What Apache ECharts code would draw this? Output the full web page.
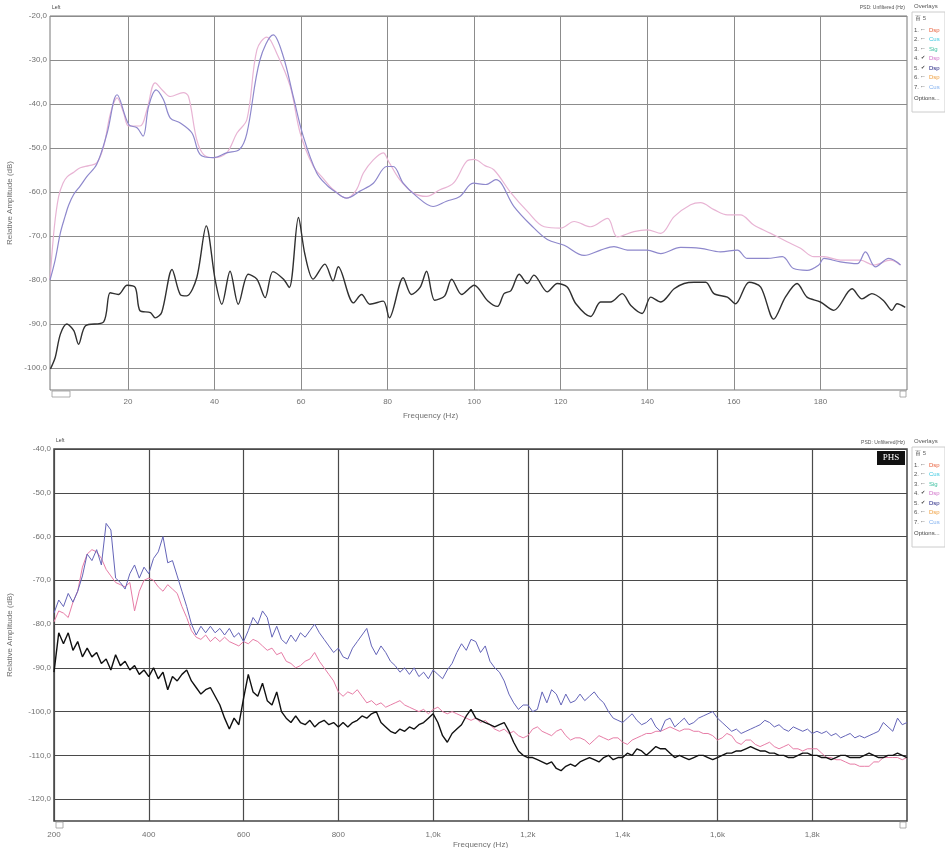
<!DOCTYPE html>
<html>
<head>
<meta charset="utf-8">
<script src="https://cdn.jsdelivr.net/npm/echarts@6/dist/echarts.min.js"></script>
<style>
html,body{margin:0;padding:0;background:#fff;}
#chart{width:945px;height:848px;}
</style>
</head>
<body>
<div id="chart"></div>
<script>
// ---------- TOP CHART (2 - 200 Hz) ----------
const topTicks = [20, 40, 60, 80, 100, 120, 140, 160, 180];
const topYTicks = [-100, -90, -80, -70, -60, -50, -40, -30, -20];

const topPink = [
[2,-80],[3,-68],[4,-61],[5,-58],[6,-56.5],[7.5,-55.5],[9,-54.5],[11,-54],[12.8,-53.4],[14.4,-49.6],
[16,-42],[17.5,-38.6],[19,-42],[20.2,-45],[22.8,-45],[24.4,-41.3],[26.3,-35.2],[28.2,-37.1],[29.8,-38.3],[32.8,-37.4],
[34,-38.3],[35.9,-48.1],[37.5,-51.5],[39.8,-52.2],[42.8,-51.1],[45.2,-46.6],[47.5,-43.5],[49.8,-27.7],[52.1,-24.8],[54.4,-28.5],
[57.5,-36],[59.8,-46.6],[62.8,-54.1],[65.2,-57],[67.5,-59.5],[70.5,-61.4],[72.8,-59.5],[74.4,-55.7],[76.7,-52.7],[79,-51.1],
[80.2,-53],[82.8,-57.2],[85.9,-60.2],[89,-61],[92.1,-59.5],[95.2,-58],[98.3,-53],[100,-52.6],[102.5,-54],[104.6,-55],
[108.5,-60.2],[112.3,-64.4],[116.2,-67.9],[120,-68.2],[123.1,-66.7],[126.9,-67.9],[130.8,-66],[133.1,-70.2],[136.9,-69],[140,-68.6],
[143.1,-69.4],[146.2,-65.6],[150,-62.9],[152.3,-62.4],[155.4,-64],[158.5,-65.2],[161.5,-65.2],[164.6,-67.5],[168.5,-69.4],[172.3,-71.3],
[175.4,-72.8],[178.5,-74.7],[180.8,-74.7],[184.6,-75.5],[189.2,-75.5],[192.3,-76.6],[196.2,-75.5],[198.5,-76.6]
];

const topBlue = [
[2,-80],[3.2,-75.4],[4.4,-69.3],[5.5,-65.5],[6.3,-63],[7.5,-60.5],[9,-58.6],[10.5,-56.5],[12.8,-53.7],[15.2,-46.6],
[17.5,-37.9],[20.2,-44.7],[22.1,-45.4],[23.5,-47.3],[24.8,-40.5],[26.5,-36.8],[28.2,-39],[29.8,-43.2],[32.1,-44.3],[34.8,-46.6],
[36.7,-51.5],[39.8,-52.2],[42.8,-51.1],[45.8,-50.3],[47.5,-46.6],[50.5,-30],[53.6,-24.3],[55.9,-29.2],[58.2,-38.3],[60.5,-47.3],
[63.6,-55.6],[66,-58.5],[68,-60],[70.5,-61.4],[73.6,-59.8],[76.7,-58],[79.8,-54.2],[81.3,-54.2],[83.6,-58],[86.7,-61],
[90.5,-63.3],[93.6,-62.1],[96.7,-61],[99.8,-58],[102.7,-58.3],[105,-57.2],[109.2,-63.3],[113.1,-67.5],[116.9,-70.8],[120.8,-72.1],
[125.4,-74.4],[129.2,-73.2],[132.3,-72.4],[135.4,-73.2],[140,-73.2],[143.1,-74],[147.7,-72.6],[152.3,-72.8],[156.9,-73.6],[160.8,-73.2],
[163.1,-75.1],[167.7,-75.1],[171.2,-74.7],[173.8,-77.4],[176.9,-77.8],[179.6,-76.6],[180.8,-75.1],[184.6,-75.9],[188.5,-76.3],[190.4,-73.6],
[192.7,-77],[195.8,-75.1],[198.5,-76.6]
];

const topBlack = [
[2.1,-100.2],[3.2,-97.6],[4.4,-92.3],[5.9,-90],[7.5,-91.5],[8.6,-94.6],[10.2,-90.4],[14.4,-89.5],[15.9,-82.9],[17.8,-83.3],
[19.8,-81.2],[21.7,-81.7],[22.8,-87],[25.2,-87.4],[26.3,-88.6],[27.8,-87.4],[30.2,-77.6],[32.1,-83.3],[33.6,-83.6],[35.9,-79.5],
[38.1,-67.7],[40.2,-80.2],[41.7,-85.5],[43.6,-78],[45.5,-85.5],[47.8,-78.7],[49.8,-79.8],[51.7,-84],[53.5,-78.1],[55.9,-79.8],
[57.3,-81.7],[59.4,-65.8],[60.9,-74.2],[62.8,-79.8],[65.5,-76.4],[67.4,-80.2],[68.6,-77],[72.1,-85.2],[74,-83.3],[75.9,-85.5],
[79,-84.8],[80.4,-88.6],[83.6,-79.5],[85.5,-83.3],[87.5,-81.7],[89,-78],[90.9,-84.6],[93.2,-83.6],[94.8,-79.8],[97.1,-83.3],
[100,-81.2],[103.1,-84.7],[105.4,-86],[106.9,-83.1],[108.5,-82.4],[110.4,-78.7],[112.3,-80.8],[113.8,-78.9],[116.9,-82.7],[119.2,-80.8],
[121.5,-81.6],[123.5,-85.4],[126.9,-88.3],[129.2,-85],[131.5,-85],[134.2,-83.1],[136.2,-85.8],[138.8,-87.6],[140.8,-83.9],[143.1,-85],
[146.2,-82],[148.5,-80.8],[150.8,-80.5],[153.5,-80.5],[155.4,-83.1],[158.5,-83.9],[160.4,-85.4],[163.5,-80.5],[166.2,-81.6],[169.2,-88.9],
[171.9,-83.9],[174.6,-80.8],[176.9,-83.9],[180,-85],[183.1,-86.9],[187.3,-82],[189.6,-84.3],[191.9,-83.1],[194.6,-84.7],[196.5,-86.9],
[197.7,-85.4],[199.6,-86.2]
];

// ---------- BOTTOM CHART (200 - 2000 Hz), sampled every 10 Hz ----------
const bottomStartHz = 200;
const bottomStepHz = 10;
const bottomTicks = [200, 400, 600, 800, 1000, 1200, 1400, 1600, 1800];
const bottomTickLabels = ['200', '400', '600', '800', '1,0k', '1,2k', '1,4k', '1,6k', '1,8k'];
const bottomYTicks = [-120, -110, -100, -90, -80, -70, -60, -50, -40];

const bottomBlue = [
-77.5,-74.5,-76,-73,-75,-72.5,-69,-64,-65.5,-63,
-66.5,-57,-58.5,-69.5,-70.5,-72,-68.5,-66.5,-69.5,-67,
-68.5,-65,-63.5,-60,-66,-65.5,-69,-72.5,-76,-80,
-82.5,-80.5,-82,-80.5,-82,-81,-82.5,-81,-83,-82,
-84,-81.5,-78.5,-80,-77,-78.5,-83,-80.5,-83.5,-84.5,
-82.5,-84,-82,-83,-81.5,-80,-82,-83.5,-85,-86.5,
-85.5,-87.5,-88,-85.5,-84,-82.5,-81,-85,-87,-85,
-86.5,-88.5,-89.5,-91,-90,-91.5,-90,-92,-91,-92.5,
-90.5,-91.5,-92.5,-90.5,-89,-86.5,-84.5,-86,-83.5,-84,
-86.5,-85,-88.5,-90,-91,-93,-96,-98,-99.5,-98.5,
-98.5,-100,-99.5,-95.5,-98,-95,-96,-98.5,-96,-98,
-97.5,-96,-97.5,-96.5,-95.5,-97,-98,-100,-101.5,-102,
-102.5,-101.5,-100.5,-102,-103,-102.5,-101.5,-103.5,-104.5,-102,
-101.5,-103.5,-102.5,-101.5,-103,-102.5,-101.5,-101,-100.5,-100,
-101.5,-102.5,-103.5,-104.5,-104,-105,-104.5,-104,-103.5,-103,
-102,-102.5,-103.5,-103,-104,-104.5,-103.5,-104,-104.5,-104,
-105,-104.5,-105,-104.5,-105.5,-105,-106,-105.5,-105,-106,
-105.5,-106,-105.5,-105,-104.5,-102.5,-103.5,-104.5,-101.5,-103,
-102.5
];

const bottomPink = [
-79.5,-77,-77.5,-78.5,-75,-72.5,-67,-64,-63,-63.5,
-65,-67.5,-69,-70.5,-71,-71.5,-70.5,-77,-72.5,-70,
-69.5,-70,-71.5,-72.5,-71,-72,-73,-76,-78.5,-81.5,
-83,-83.5,-82.5,-84,-83,-84,-83,-84,-84.5,-85,
-84,-84.5,-83.5,-84,-85,-86,-85.5,-87,-86.5,-88.5,
-89,-90,-89.5,-88.5,-88,-86.5,-88.5,-90,-91.5,-93,
-95.5,-96.5,-95.5,-96,-95,-96.5,-98,-97.5,-98.5,-98,
-99,-98.5,-98,-97.5,-98.5,-99,-99.5,-100,-99.5,-100.5,
-99.5,-99,-100,-100.5,-100,-100.5,-101,-101.5,-102,-101.5,
-102.5,-102,-103,-104,-104.5,-104,-105,-104.5,-105.5,-106,
-105.5,-104,-103.5,-104.5,-105,-105.5,-104.5,-104,-105.5,-106.5,
-106,-106,-106.5,-107.5,-106.5,-105.5,-106,-106.5,-106,-106,
-107,-107.5,-106.5,-106,-105.5,-105,-105,-104.5,-104.5,-104,
-103.5,-104,-104.5,-104,-104,-104.5,-104.5,-105,-105,-105.5,
-106.5,-106,-105,-105.5,-107,-107.5,-106.5,-106.5,-107.5,-108,
-107.5,-107,-108,-108.5,-108,-107.5,-108.5,-108.5,-109,-108.5,
-108.5,-108.5,-109.5,-110.5,-110.5,-111,-111,-111.5,-112,-112,
-112.5,-112.5,-112.5,-111.5,-111.5,-110.5,-110.5,-110.5,-110.5,-111,
-110.5
];

const bottomBlack = [
-91,-82,-84.5,-82,-86,-84,-87.5,-85.5,-87.5,-86.5,
-89,-88,-90.5,-87,-89.5,-88.5,-90.5,-89.5,-91.5,-90.5,
-92,-90,-92.5,-91,-95,-92,-93,-91.5,-90.5,-93,
-94.5,-96,-95,-94.5,-96.5,-98.5,-101.5,-104,-101.5,-103,
-97,-91.5,-95.5,-96.5,-93.5,-97.5,-98.5,-95.5,-100,-101.5,
-102.5,-101,-102.5,-103,-102,-103.5,-102.5,-102,-103,-102.5,
-103.5,-102.5,-103.5,-102.5,-102,-101,-101.5,-100.5,-100,-102.5,
-103.5,-104.5,-105,-104,-104.5,-103.5,-104,-103,-102.5,-101.5,
-100.5,-102.5,-105.5,-107,-105,-104,-103,-101,-99.5,-101.5,
-102,-102.5,-103,-103.5,-103,-102.5,-104.5,-107,-109,-110,
-110.5,-110.5,-111,-111.5,-112,-111.5,-113,-113.5,-112.5,-112,
-112.5,-111.5,-111,-110.5,-111,-111.5,-110.5,-110,-111,-110.5,
-110.5,-109.5,-110,-108.5,-109,-110,-109,-108,-108.5,-108.5,
-109.5,-110.5,-110,-110.5,-111,-110.5,-110,-110,-110.5,-111,
-110.5,-110,-109.5,-109.5,-109,-109,-108.5,-108,-108.5,-109,
-109,-109.5,-109.5,-110,-110,-110.5,-110.5,-110,-109.5,-109.5,
-110,-110,-110.5,-110.5,-111,-110.5,-110,-110,-110.5,-110.5,
-110.5,-110,-109.5,-110,-110.5,-110.5,-110,-110,-109.5,-110,
-110.5
];

// ---------- build ----------
function toPairs(values) {
  return values.map((v, i) => [bottomStartHz + i * bottomStepHz, v]);
}
function fmtDb(v) { return v.toFixed(1).replace('.', ','); }

const FONT = 'Liberation Sans, Arial, sans-serif';
const labelColor = '#707070';

const chart = echarts.init(document.getElementById('chart'), null, {renderer: 'canvas'});

function overlayPanel(x, y) {
  const items = [
    ['1.', '#e8603c', 'Dsp'], ['2.', '#3cc8e0', 'Cus'], ['3.', '#3cc0a0', 'Sig'],
    ['4.', '#d070c8', 'Dsp'], ['5.', '#202080', 'Dsp'], ['6.', '#f0a040', 'Dsp'], ['7.', '#80b0f0', 'Cus']
  ];
  const els = [
    {type: 'text', x: x + 2, y: y, style: {text: 'Overlays', fontSize: 6, fill: '#555', fontFamily: FONT}},
    {type: 'rect', shape: {x: x, y: y + 9, width: 33, height: 100}, style: {fill: 'none', stroke: '#ccc', lineWidth: 1}},
    {type: 'text', x: x + 3, y: y + 12, style: {text: '百 5', fontSize: 6, fill: '#666', fontFamily: FONT}}
  ];
  items.forEach((it, i) => {
    const yy = y + 24 + i * 9.5;
    els.push({type: 'text', x: x + 2, y: yy, style: {text: it[0], fontSize: 6, fill: '#555', fontFamily: FONT}});
    els.push({type: 'text', x: x + 9, y: yy, style: {text: (i === 3 || i === 4) ? '✔' : '⌐', fontSize: 5, fill: '#444', fontFamily: 'DejaVu Sans'}});
    els.push({type: 'text', x: x + 17, y: yy, style: {text: it[2], fontSize: 6, fill: it[1], fontFamily: FONT}});
  });
  els.push({type: 'text', x: x + 2, y: y + 92, style: {text: 'Options...', fontSize: 6, fill: '#444', fontFamily: FONT}});
  return els;
}

const option = {
  backgroundColor: '#ffffff',
  animation: false,
  grid: [
    {left: 50, top: 16, right: 38, height: 374, outerBoundsMode: 'none', containLabel: false,
     show: true, borderColor: '#777', borderWidth: 1, backgroundColor: '#fff'},
    {left: 54, top: 449, right: 38, height: 372, outerBoundsMode: 'none', containLabel: false,
     show: true, borderColor: '#444', borderWidth: 1.5, backgroundColor: '#fff'}
  ],
  xAxis: [
    {
      type: 'value', gridIndex: 0, min: 2, max: 200,
      name: 'Frequency (Hz)', nameLocation: 'middle', nameGap: 22,
      nameTextStyle: {fontSize: 8, color: labelColor, fontFamily: FONT, padding: [0, 96, 0, 0]},
      axisLine: {show: false},
      axisTick: {show: false, customValues: topTicks},
      axisLabel: {customValues: topTicks, fontSize: 8, color: labelColor, fontFamily: FONT, margin: 8},
      splitLine: {show: true, lineStyle: {color: '#8c8c8c', width: 1}}
    },
    {
      type: 'value', gridIndex: 1, min: 200, max: 2000,
      name: 'Frequency (Hz)', nameLocation: 'middle', nameGap: 20,
      nameTextStyle: {fontSize: 8, color: labelColor, fontFamily: FONT},
      axisLine: {show: false},
      axisTick: {show: false, customValues: bottomTicks},
      axisLabel: {
        customValues: bottomTicks, fontSize: 8, color: labelColor, fontFamily: FONT, margin: 10,
        formatter: v => bottomTickLabels[bottomTicks.indexOf(v)] || ''
      },
      splitLine: {show: true, lineStyle: {color: '#4a4a4a', width: 1.2}}
    }
  ],
  yAxis: [
    {
      type: 'value', gridIndex: 0, min: -105, max: -20,
      name: 'Relative Amplitude (dB)', nameLocation: 'middle', nameGap: 36,
      nameTextStyle: {fontSize: 8, color: labelColor, fontFamily: FONT},
      axisLine: {show: false},
      axisTick: {show: false, customValues: topYTicks},
      axisLabel: {customValues: topYTicks, fontSize: 8, color: labelColor, fontFamily: FONT, margin: 3, formatter: fmtDb},
      splitLine: {show: true, lineStyle: {color: '#8c8c8c', width: 1}}
    },
    {
      type: 'value', gridIndex: 1, min: -125, max: -40,
      name: 'Relative Amplitude (dB)', nameLocation: 'middle', nameGap: 40,
      nameTextStyle: {fontSize: 8, color: labelColor, fontFamily: FONT},
      axisLine: {show: false},
      axisTick: {show: false, customValues: bottomYTicks},
      axisLabel: {customValues: bottomYTicks, fontSize: 8, color: labelColor, fontFamily: FONT, margin: 3, formatter: fmtDb},
      splitLine: {show: true, lineStyle: {color: '#4a4a4a', width: 1.2}}
    }
  ],
  series: [
    {type: 'line', xAxisIndex: 0, yAxisIndex: 0, data: topPink, smooth: 0.35, showSymbol: false,
     lineStyle: {color: '#e8b4d4', width: 1.2}, z: 3},
    {type: 'line', xAxisIndex: 0, yAxisIndex: 0, data: topBlue, smooth: 0.35, showSymbol: false,
     lineStyle: {color: '#8e88cc', width: 1.2}, z: 4},
    {type: 'line', xAxisIndex: 0, yAxisIndex: 0, data: topBlack, smooth: 0.3, showSymbol: false,
     lineStyle: {color: '#303030', width: 1.4}, z: 5},
    {type: 'line', xAxisIndex: 1, yAxisIndex: 1, data: toPairs(bottomPink), showSymbol: false,
     lineStyle: {color: '#e77ca6', width: 1}, z: 3},
    {type: 'line', xAxisIndex: 1, yAxisIndex: 1, data: toPairs(bottomBlue), showSymbol: false,
     lineStyle: {color: '#6464b8', width: 1}, z: 4},
    {type: 'line', xAxisIndex: 1, yAxisIndex: 1, data: toPairs(bottomBlack), showSymbol: false,
     lineStyle: {color: '#111111', width: 1.4}, z: 5}
  ],
  graphic: [
    {type: 'text', x: 52, y: 5, style: {text: 'Left', fontSize: 5, fill: '#444', fontFamily: FONT}},
    {type: 'text', x: 905, y: 5, style: {text: 'PSD: Unfiltered (Hz)', fontSize: 5, fill: '#555', fontFamily: FONT, align: 'right'}},
    {type: 'text', x: 56, y: 438, style: {text: 'Left', fontSize: 5, fill: '#444', fontFamily: FONT}},
    {type: 'text', x: 905, y: 440, style: {text: 'PSD: Unfiltered(Hz)', fontSize: 5, fill: '#555', fontFamily: FONT, align: 'right'}},
    {type: 'rect', shape: {x: 877, y: 451, width: 28, height: 14}, style: {fill: '#111'}},
    {type: 'text', x: 891, y: 458, style: {text: 'PHS', fontSize: 9, fill: '#fff', fontFamily: 'Liberation Serif', align: 'center', verticalAlign: 'middle'}},
    {type: 'rect', shape: {x: 52, y: 391, width: 18, height: 6}, style: {fill: '#fff', stroke: '#999', lineWidth: 0.8}},
    {type: 'rect', shape: {x: 900, y: 391, width: 6, height: 6}, style: {fill: '#fff', stroke: '#999', lineWidth: 0.8}},
    {type: 'rect', shape: {x: 56, y: 822, width: 7, height: 6}, style: {fill: '#fff', stroke: '#999', lineWidth: 0.8}},
    {type: 'rect', shape: {x: 900, y: 822, width: 6, height: 6}, style: {fill: '#fff', stroke: '#999', lineWidth: 0.8}}
  ].concat(overlayPanel(912, 3)).concat(overlayPanel(912, 438))
};

chart.setOption(option);
</script>
</body>
</html>
